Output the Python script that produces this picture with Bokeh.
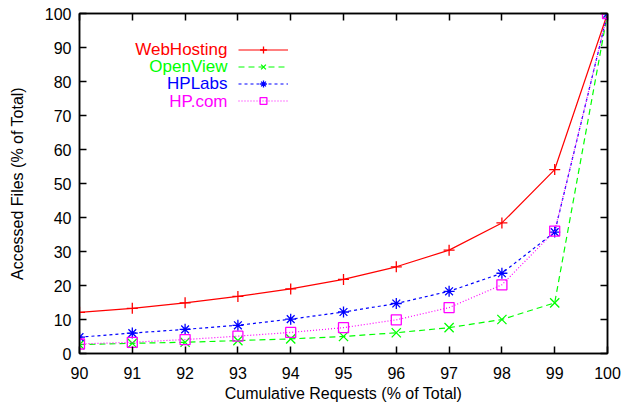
from bokeh.plotting import figure
from bokeh.models import (LinearAxis, Range1d, FixedTicker, Legend, LegendItem, Label)
from bokeh.core.properties import value
from bokeh.embed import file_html
from bokeh.resources import INLINE

requests = [90, 91, 92, 93, 94, 95, 96, 97, 98, 99, 100]
webhosting = [12.1, 13.3, 14.9, 16.8, 19.0, 21.8, 25.5, 30.4, 38.4, 54.1, 100]
openview = [2.6, 3.0, 3.3, 3.8, 4.3, 5.0, 6.1, 7.6, 10.0, 14.9, 100]
hplabs = [4.8, 6.0, 7.1, 8.3, 10.1, 12.2, 14.7, 18.3, 23.6, 35.7, 100]
hpcom = [2.8, 3.3, 4.1, 5.1, 6.2, 7.6, 9.9, 13.5, 20.2, 36.0, 100]
series_names = ["WebHosting", "OpenView", "HPLabs", "HP.com"]
x_ticks = list(range(90, 101))
y_ticks = list(range(0, 101, 10))

FONT = "Liberation Sans"

p = figure(width=622, height=406, output_backend="svg", toolbar_location=None,
           x_range=Range1d(90, 100), y_range=Range1d(0, 100),
           min_border_left=79, min_border_right=15, min_border_top=13, min_border_bottom=53,
           x_axis_label="Cumulative Requests (% of Total)",
           y_axis_label="Accessed Files (% of Total)")
p.grid.visible = False
p.outline_line_color = "black"
p.outline_line_width = 1.5
p.background_fill_color = "white"
p.border_fill_color = "white"

for ax, ticks in ((p.xaxis[0], x_ticks), (p.yaxis[0], y_ticks)):
    ax.ticker = FixedTicker(ticks=ticks)
    ax.major_tick_in = 7
    ax.major_tick_out = 0
    ax.minor_tick_line_color = None
    ax.major_tick_line_width = 1.5
    ax.axis_line_width = 1.5
    ax.major_label_text_font = FONT
    ax.major_label_text_font_size = "16px"
    ax.major_label_text_color = "black"
    ax.axis_label_text_font = FONT
    ax.axis_label_text_font_size = "16px"
    ax.axis_label_text_font_style = "normal"
    ax.axis_label_text_color = "black"
p.xaxis[0].major_label_standoff = 13
p.xaxis[0].axis_label_standoff = 3
p.yaxis[0].major_label_standoff = 8
p.yaxis[0].axis_label_standoff = 16

# mirrored ticks (gnuplot style), labels not painted
top = LinearAxis(ticker=FixedTicker(ticks=x_ticks), major_label_text_font_size="1px",
                 major_label_text_color=None,
                 major_tick_in=7, major_tick_out=0, minor_tick_line_color=None,
                 major_label_standoff=0, major_tick_line_width=1.5, axis_line_width=1.5)
right = LinearAxis(ticker=FixedTicker(ticks=y_ticks), major_label_text_font_size="1px",
                   major_label_text_color=None,
                   major_tick_in=7, major_tick_out=0, minor_tick_line_color=None,
                   major_label_standoff=0, major_tick_line_width=1.5, axis_line_width=1.5)
p.add_layout(top, "above")
p.add_layout(right, "right")

styles = [
    (webhosting, "#ff0000", "solid", "cross", 11),
    (openview, "#00ff00", "6 4", "x", 13),
    (hplabs, "#0000ff", "3 3", "asterisk", 11),
    (hpcom, "#ff00ff", "1 2", "square", 10),
]
items = []
for name, (ys, color, dash, marker, msize) in zip(series_names, styles):
    ln = p.line(requests, ys, line_color=color, line_width=1.2, line_dash=dash)
    sc = p.scatter(requests, ys, marker=marker, size=msize, line_color=color,
                   fill_color=None, line_width=1.3)
    items.append(LegendItem(label=value(""), renderers=[ln, sc]))

legend = Legend(items=items, location=(159, 244), glyph_width=50, glyph_height=17,
                label_height=17, label_width=0, label_standoff=0, spacing=0,
                padding=0, margin=0, border_line_alpha=0, background_fill_alpha=0,
                label_text_font_size="1px", label_text_color=None)
p.add_layout(legend, "center")

label_ys = [304, 287, 270, 252]
for name, (ys, color, *_), ly in zip(series_names, styles, label_ys):
    p.add_layout(Label(x=148, y=ly, x_units="screen", y_units="screen", text=name,
                       text_align="right", text_baseline="middle", text_color=color,
                       text_font=FONT, text_font_size="17px"))

open("out.html", "w").write(file_html(p, INLINE))
